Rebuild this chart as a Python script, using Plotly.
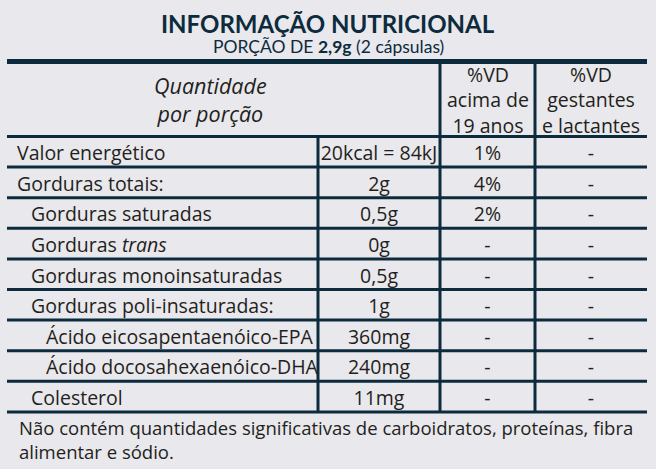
import plotly.graph_objects as go

# dados da tabela nutricional
nutrientes = ["Valor energético", "Gorduras totais:", "Gorduras saturadas", "Gorduras <i>trans</i>",
              "Gorduras monoinsaturadas", "Gorduras poli-insaturadas:",
              "Ácido eicosapentaenóico-EPA", "Ácido docosahexaenóico-DHA", "Colesterol"]
nivel = [0, 0, 1, 1, 1, 1, 2, 2, 1]
quantidade = ["20kcal = 84kJ", "2g", "0,5g", "0g", "0,5g", "1g", "360mg", "240mg", "11mg"]
vd_adultos = ["1%", "4%", "2%", "-", "-", "-", "-", "-", "-"]
vd_gestantes = ["-", "-", "-", "-", "-", "-", "-", "-", "-"]

titulo = "INFORMAÇÃO NUTRICIONAL"
porcao = "PORÇÃO DE <b>2,9g</b> (2 cápsulas)"
cabecalho = ["<i>Quantidade<br>por porção</i>", "%VD<br>acima de<br>19 anos", "%VD<br>gestantes<br>e lactantes"]
rodape = "Não contém quantidades significativas de carboidratos, proteínas, fibra<br>alimentar e sódio."

W, H = 656, 469
BG = "#e9e8ec"
NAVY = "#0c2b3d"
TXT = "#231f20"
FONT = "Open Sans, sans-serif"
FONT_TIT = "Lato, sans-serif"

x_esq, x_dir = 7, 647
x_col1, x_col2, x_col3 = 318, 440, 535
y_topo, y_cab = 61.5, 136.5
alt_linha = 30.6
n = len(nutrientes)
y_linhas = [y_cab + alt_linha * (i + 1) for i in range(n)]
y_centros = [y_cab + alt_linha * (i + 0.5) + 3.5 for i in range(n)]
indent = {0: 17, 1: 31, 2: 46}

fig = go.Figure()

# nomes dos nutrientes
fig.add_trace(go.Scatter(
    x=[indent[v] for v in nivel], y=y_centros, text=nutrientes,
    mode="text", textposition="middle right",
    textfont=dict(family=FONT, size=19.5, color=TXT), hoverinfo="skip"))
# colunas de valores
for xc, vals in [((x_col1 + x_col2) / 2, quantidade), ((x_col2 + x_col3) / 2, vd_adultos),
                 ((x_col3 + x_dir) / 2, vd_gestantes)]:
    fig.add_trace(go.Scatter(
        x=[xc] * n, y=y_centros, text=vals, mode="text", textposition="middle center",
        textfont=dict(family=FONT, size=19.5, color=TXT), hoverinfo="skip"))

# linhas horizontais
fig.add_shape(type="line", x0=x_esq, x1=x_dir, y0=y_topo, y1=y_topo, line=dict(color=NAVY, width=5))
fig.add_shape(type="line", x0=x_esq, x1=x_dir, y0=y_cab, y1=y_cab, line=dict(color=NAVY, width=3))
for y in y_linhas:
    fig.add_shape(type="line", x0=x_esq, x1=x_dir, y0=y, y1=y, line=dict(color=NAVY, width=3))
# linhas verticais
fig.add_shape(type="line", x0=x_col1, x1=x_col1, y0=y_cab, y1=y_linhas[-1], line=dict(color=NAVY, width=3))
for xv in [x_col2, x_col3]:
    fig.add_shape(type="line", x0=xv, x1=xv, y0=y_topo, y1=y_linhas[-1], line=dict(color=NAVY, width=3))

# título e cabeçalho
fig.add_annotation(x=W / 2, y=23, text="<b>" + titulo + "</b>", showarrow=False,
                   font=dict(family=FONT_TIT, size=24, color=NAVY))
fig.add_annotation(x=W / 2, y=46, text=porcao, showarrow=False,
                   font=dict(family=FONT_TIT, size=17.5, color=NAVY))
fig.add_annotation(x=210, y=99, text=cabecalho[0], showarrow=False,
                   font=dict(family=FONT, size=21.5, color=TXT))
fig.add_annotation(x=(x_col2 + x_col3) / 2, y=99.5, text=cabecalho[1], showarrow=False,
                   font=dict(family=FONT, size=19.5, color=TXT))
fig.add_annotation(x=(x_col3 + x_dir) / 2, y=99.5, text=cabecalho[2], showarrow=False,
                   font=dict(family=FONT, size=19.5, color=TXT))

# rodapé
fig.add_annotation(x=17, y=439, text=rodape, showarrow=False, xanchor="left", align="left",
                   font=dict(family=FONT, size=18.5, color=TXT))

fig.update_layout(
    width=W, height=H, margin=dict(l=0, r=0, t=0, b=0),
    paper_bgcolor=BG, plot_bgcolor=BG, showlegend=False,
    xaxis=dict(range=[0, W], visible=False, fixedrange=True),
    yaxis=dict(range=[H, 0], visible=False, fixedrange=True),
)

fig.write_html("out.html", config={"staticPlot": True},
               post_script="document.body.style.margin='0';")
